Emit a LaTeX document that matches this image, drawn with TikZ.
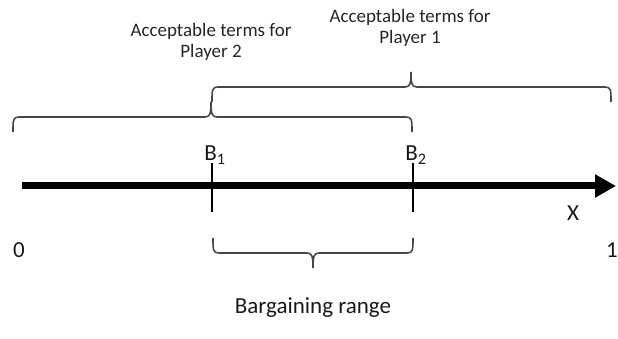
\documentclass[tikz,border=0pt]{standalone}
\usepackage{fontspec}
\setmainfont{Carlito}
\usetikzlibrary{arrows.meta}

\tikzset{
  lbl/.style={inner sep=0pt, font=\fontsize{19}{21}\selectfont, align=center, text=black!85},
  biglbl/.style={inner sep=0pt, font=\fontsize{23}{26}\selectfont, text=black!90},
  bracket/.style={draw=black!72, line width=1.6pt},
  tickline/.style={draw=black, line width=2pt},
  axis/.style={draw=black, line width=7pt, -{Triangle[length=21pt,width=22pt]}}
}

% horizontal brace: #1 left x, #2 middle x, #3 right x, #4 y of the bar,
% #5 = +1 for ends hanging down and tip up, -1 for the reverse
\newcommand\hbrace[5]{%
  \draw[bracket]
    (#1,#4+15*#5) .. controls (#1,#4+3*#5) and (#1,#4) .. (#1+6,#4)
    -- (#2-6,#4) .. controls (#2-1,#4) and (#2,#4-3*#5) .. (#2,#4-15*#5)
    .. controls (#2,#4-3*#5) and (#2+1,#4) .. (#2+6,#4)
    -- (#3-6,#4) .. controls (#3,#4) and (#3,#4+3*#5) .. (#3,#4+15*#5);
}

\begin{document}
\begin{tikzpicture}[x=1pt, y=-1pt]
  \useasboundingbox (0,0) rectangle (618,339);

  % number line
  \coordinate (start) at (22,186);
  \coordinate (end) at (616,186);
  \draw[axis] (start) -- (end);

  % reservation points
  \coordinate (b1top) at (212,163);
  \coordinate (b1bot) at (212,212);
  \coordinate (b2top) at (413,163);
  \coordinate (b2bot) at (413,212);
  \draw[tickline] (b1top) -- (b1bot);
  \draw[tickline] (b2top) -- (b2bot);
  \node[biglbl] (b1) at (215,155) {B\textsubscript{1}};
  \node[biglbl] (b2) at (416,155) {B\textsubscript{2}};

  \node[biglbl] (xlab) at (573,213) {X};
  \node[biglbl] (zero) at (19,250) {0};
  \node[biglbl] (one) at (612,250) {1};

  % acceptable ranges
  \hbrace{13}{211}{412}{117}{1}
  \hbrace{212}{411}{611}{87}{1}
  \node[lbl] (p2) at (211,42) {Acceptable terms for\\Player 2};
  \node[lbl] (p1) at (410,28) {Acceptable terms for\\Player 1};

  % bargaining range
  \hbrace{213}{313}{413}{253}{-1}
  \node[biglbl] (range) at (313,308) {Bargaining range};
\end{tikzpicture}
\end{document}
